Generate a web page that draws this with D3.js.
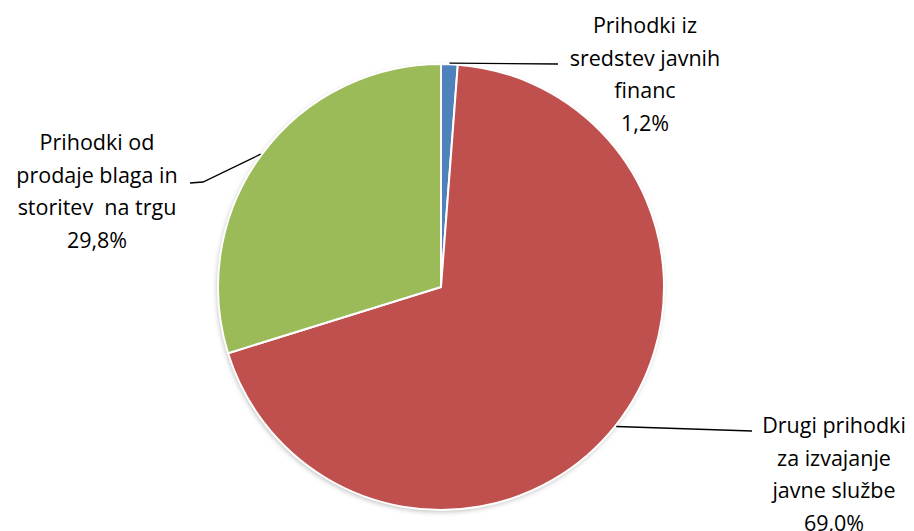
<!DOCTYPE html>
<meta charset="utf-8">
<style>
body { margin: 0; background: #fff; }
svg { display: block; }
.lbl { font-family: "Open Sans", "Noto Sans", sans-serif; font-size: 21.5px; fill: #000; }
.leader { fill: none; stroke: #000; stroke-width: 1.3px; }
</style>
<body>
<script src="https://cdn.jsdelivr.net/npm/d3@7"></script>
<script>
var width = 914, height = 531;

// data
var categories = [
  ["Prihodki iz", "sredstev javnih", "financ"],
  ["Drugi prihodki", "za izvajanje", "javne službe"],
  ["Prihodki od", "prodaje blaga in", "storitev  na trgu"]
];
var values = [1.2, 69.0, 29.8];
var valueLabels = ["1,2%", "69,0%", "29,8%"];
var colors = ["#4F81BD", "#C0504D", "#9BBB59"];

// layout
var cx = 441, cy = 287, radius = 223;
var lineH = 32.5;
// label block: centre x, baseline of first line, leader end, optional elbow
var labelPos = [
  {x: 645, y: 33, end: [558, 64]},
  {x: 834, y: 433, end: [752, 431]},
  {x: 97, y: 150, end: [190, 183], elbow: [203, 182]}
];

var svg = d3.select("body").append("svg")
    .attr("width", width)
    .attr("height", height);

var defs = svg.append("defs");
var f = defs.append("filter").attr("id", "shadow")
    .attr("x", "-10%").attr("y", "-10%").attr("width", "120%").attr("height", "120%");
f.append("feDropShadow")
    .attr("dx", -1).attr("dy", 2).attr("stdDeviation", 2.5)
    .attr("flood-color", "#000").attr("flood-opacity", 0.25);

var pie = d3.pie().sort(null).value(function(d) { return d; });
var arcs = pie(values);
var arc = d3.arc().innerRadius(0).outerRadius(radius);

var g = svg.append("g")
    .attr("transform", "translate(" + cx + "," + cy + ")");

g.append("circle").attr("r", radius).attr("fill", "#fff").attr("filter", "url(#shadow)");

g.selectAll("path.slice")
  .data(arcs)
  .enter().append("path")
    .attr("class", "slice")
    .attr("d", arc)
    .attr("fill", function(d, i) { return colors[i]; })
    .attr("stroke", "#fff")
    .attr("stroke-width", 2)
    .attr("stroke-linejoin", "round");

// leader lines from the middle of each slice's rim
svg.selectAll("path.leader")
  .data(arcs)
  .enter().append("path")
    .attr("class", "leader")
    .attr("d", function(d, i) {
      var a = (d.startAngle + d.endAngle) / 2;
      var r = radius + 1;
      var p = [cx + r * Math.sin(a), cy - r * Math.cos(a)];
      var lp = labelPos[i];
      var pts = [p];
      if (lp.elbow) pts.push(lp.elbow);
      pts.push(lp.end);
      return d3.line()(pts);
    });

var labels = svg.selectAll("text.lbl")
  .data(arcs)
  .enter().append("text")
    .attr("class", "lbl")
    .attr("text-anchor", "middle")
    .attr("x", function(d, i) { return labelPos[i].x; })
    .attr("y", function(d, i) { return labelPos[i].y; });

labels.each(function(d, i) {
  var t = d3.select(this);
  var lines = categories[i].concat([valueLabels[i]]);
  lines.forEach(function(s, k) {
    t.append("tspan")
      .attr("x", labelPos[i].x)
      .attr("y", labelPos[i].y + k * lineH)
      .style("white-space", "pre")
      .text(s);
  });
});
</script>
</body>
